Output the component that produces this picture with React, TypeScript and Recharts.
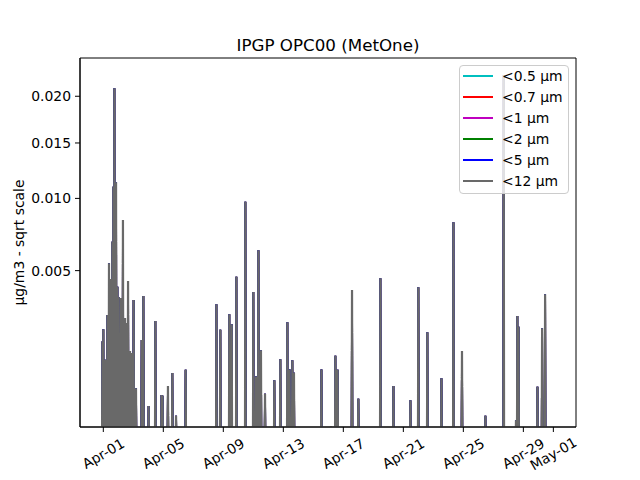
import React from 'react';
import { LineChart, Line, XAxis, YAxis, Legend, ReferenceArea } from 'recharts';

// Days since 2024-04-01 00:00 of each spike, and its peak value (µg/m3)
const spikeDays = [
  -0.06, 0.0, 0.08, 0.16, 0.27, 0.38, 0.49, 0.6, 0.67, 0.74, 0.85, 0.94, 1.02, 1.09, 1.18, 1.245,
  1.31, 1.38, 1.45, 1.54, 1.65, 1.715, 1.78, 1.89, 1.955, 2.02, 2.1, 2.18,
  2.56, 2.67, 3.02, 3.47, 3.88, 3.95, 4.31, 4.6, 4.85, 5.49,
  7.54, 7.8, 8.4, 8.56, 8.87, 9.47, 10.0, 10.18, 10.34, 10.51, 10.78, 11.4, 11.8, 12.27, 12.42,
  12.6, 12.71, 14.54, 15.18, 15.47, 15.62, 16.58, 17.0, 18.47, 19.34, 20.47, 21.0, 21.6, 22.11,
  22.54, 23.34, 23.91, 25.47, 26.69, 27.51, 27.6, 27.68, 28.94, 29.25, 29.45,
];
const pm12Values = [
  0.00176, 0.0022, 0.0012, 0.00119, 0.00278, 0.00543, 0.00453, 0.0068, 0.01097, 0.02092, 0.01135,
  0.00412, 0.0036, 0.00139, 0.00355, 0.0033, 0.00833, 0.0026, 0.00265, 0.00245, 0.00442, 0.0014,
  0.00145, 0.00139, 0.0013, 0.00346, 0.0005, 0.00053,
  0.00181, 0.00365, 0.00025, 0.00253, 0.00041, 0.0004, 0.00057, 0.00085, 0.00014, 0.00093,
  0.00326, 0.00218, 0.00281, 0.0024, 0.00466, 0.00973, 0.00385, 0.00077, 0.00623, 0.00148, 0.00043,
  0.00069, 0.00121, 0.00248, 0.00094, 0.00118, 0.00086, 0.00094, 0.00006, 0.00131, 0.00093,
  0.00395, 0.00035, 0.00457, 0.00057, 0.00033, 0.00409, 0.00209, 0.00005, 0.00073, 0.00816,
  0.00145, 0.00014, 0.02251, 0.0001, 0.00274, 0.0023, 0.00056, 0.00224, 0.00374,
];

const sizeLabels = ['<0.5 µm', '<0.7 µm', '<1 µm', '<2 µm', '<5 µm', '<12 µm'];
const seriesColors = ['#00bfbf', '#ff0000', '#bf00bf', '#008000', '#0000ff', '#696969'];

const xTickDays = [0, 4, 8, 12, 16, 20, 24, 28, 30];
const xTickLabels = ['Apr-01', 'Apr-05', 'Apr-09', 'Apr-13', 'Apr-17', 'Apr-21', 'Apr-25', 'Apr-29', 'May-01'];
const yTicks = [0.005, 0.01, 0.015, 0.02];

const X_DOMAIN: [number, number] = [-1.553, 31.51];
const Y_DOMAIN: [number, number] = [0.0000533, 0.024628];

const FONT = 'DejaVu Sans, sans-serif';
const HALF = 0.025;

const data = spikeDays.flatMap((d, i) => [
  { t: d - HALF, v: 0 },
  { t: d, v: pm12Values[i] },
  { t: d + HALF, v: 0 },
]);

const XTick = (props: any) => {
  const { x, payload } = props;
  const idx = xTickDays.indexOf(payload.value);
  const label = idx >= 0 ? xTickLabels[idx] : '';
  const cy = 453.5;
  return (
    <text
      x={x}
      y={cy}
      transform={`rotate(-30 ${x} ${cy})`}
      textAnchor="middle"
      dominantBaseline="central"
      fontSize={13.9}
      fontFamily={FONT}
      fill="#000"
    >
      {label}
    </text>
  );
};

const LegendBox = () => (
  <div
    style={{
      position: 'relative',
      width: 110,
      height: 129,
      boxSizing: 'border-box',
      border: '1px solid #cccccc',
      borderRadius: 4,
      background: 'rgba(255,255,255,0.8)',
      fontFamily: FONT,
      fontSize: 13.9,
    }}
  >
    {sizeLabels.map((lab, i) => (
      <React.Fragment key={lab}>
        <div
          style={{
            position: 'absolute',
            left: 3,
            top: 9.7 + 21 * i - 1,
            width: 30,
            height: 2,
            background: seriesColors[i],
          }}
        />
        <div
          style={{
            position: 'absolute',
            left: 42,
            top: 9.7 + 21 * i - 8,
            lineHeight: '16px',
            whiteSpace: 'nowrap',
            color: '#000',
          }}
        >
          {lab}
        </div>
      </React.Fragment>
    ))}
  </div>
);

export default function App() {
  return (
    <div style={{ position: 'absolute', left: 0, top: 0, width: 640, height: 480, background: '#fff' }}>
      <LineChart width={640} height={480} data={data} margin={{ top: 58, right: 64, bottom: 0, left: 0 }}>
        <XAxis
          dataKey="t"
          type="number"
          domain={X_DOMAIN}
          allowDataOverflow
          ticks={xTickDays}
          interval={0}
          tick={<XTick />}
          tickSize={5}
          height={53}
          stroke="#000"
          tickLine={{ stroke: '#000' }}
          axisLine={{ stroke: '#000' }}
        />
        <YAxis
          type="number"
          scale="sqrt"
          domain={Y_DOMAIN}
          allowDataOverflow
          ticks={yTicks}
          interval={0}
          tickFormatter={(v: number) => v.toFixed(3)}
          tick={{ fontSize: 13.9, fill: '#000', fontFamily: FONT }}
          tickSize={5}
          tickMargin={4}
          width={80}
          tickLine={{ stroke: '#000' }}
          axisLine={{ stroke: '#000' }}
        />
        {sizeLabels.map((lab, i) => (
          <Line
            key={lab}
            name={lab}
            type="linear"
            dataKey="v"
            stroke={seriesColors[i]}
            strokeWidth={i === sizeLabels.length - 1 ? 2.2 : 1.8}
            dot={false}
            activeDot={false}
            isAnimationActive={false}
          />
        ))}
        <ReferenceArea
          x1={X_DOMAIN[0]}
          x2={X_DOMAIN[1]}
          y1={Y_DOMAIN[0]}
          y2={Y_DOMAIN[1]}
          fill="none"
          fillOpacity={0}
          stroke="#000"
          strokeWidth={1}
          ifOverflow="visible"
        />
        <Legend
          layout="vertical"
          align="center"
          verticalAlign="middle"
          wrapperStyle={{ position: 'absolute', left: 459, top: 65, width: 110, height: 129 }}
          content={() => <LegendBox />}
        />
        <text x={328} y={51} textAnchor="middle" fontSize={16.7} fontFamily={FONT} fill="#000">
          IPGP OPC00 (MetOne)
        </text>
        <text
          x={19}
          y={242.5}
          transform="rotate(-90 19 242.5)"
          textAnchor="middle"
          dominantBaseline="central"
          fontSize={13.9}
          fontFamily={FONT}
          fill="#000"
        >
          µg/m3 - sqrt scale
        </text>
      </LineChart>
    </div>
  );
}
